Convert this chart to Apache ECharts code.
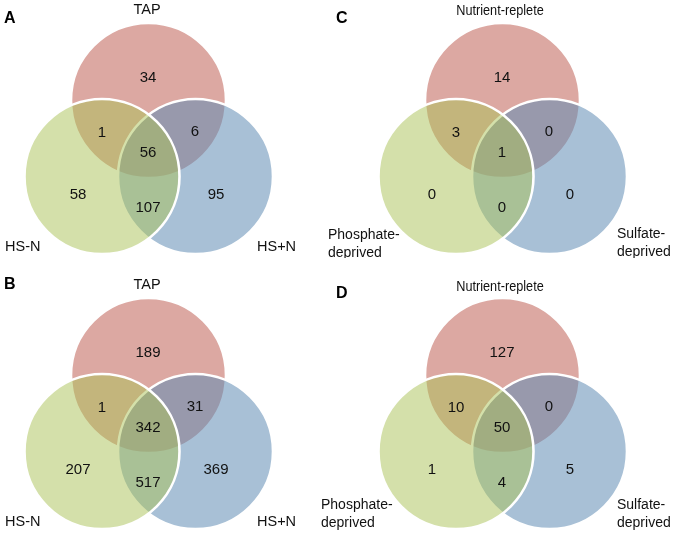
<!DOCTYPE html>
<html>
<head>
<meta charset="utf-8">
<script src="https://cdn.jsdelivr.net/npm/echarts@6/dist/echarts.min.js"></script>
<style>
html,body{margin:0;padding:0;background:#fff;}
#chart{width:675px;height:534px;}
</style>
</head>
<body>
<div id="chart"></div>
<script>
// ---------- DATA ----------
const panelLetters = ['A', 'B', 'C', 'D'];
const setNamesAB = ['TAP', 'HS-N', 'HS+N'];
const setNamesCD = ['Nutrient-replete', 'Phosphate-\ndeprived', 'Sulfate-\ndeprived'];
// region order: top only, top∩left, top∩right, all three, left only, left∩right, right only
const regionNames = ['top only', 'top & left', 'top & right', 'all three', 'left only', 'left & right', 'right only'];
const countsA = [34, 1, 6, 56, 58, 107, 95];
const countsB = [189, 1, 31, 342, 207, 517, 369];
const countsC = [14, 3, 0, 1, 0, 0, 0];
const countsD = [127, 10, 0, 50, 1, 4, 5];

// ---------- LAYOUT (panel-local units = px) ----------
const FONT = '"Liberation Sans", Arial, Helvetica, sans-serif';
const R = 77.5;
const circleCenters = [[148.5, 100.5], [102, 176.5], [195.5, 176.5]]; // top, left, right
const circleFills = ['rgb(220,168,162)', 'rgba(169,193,85,0.5)', 'rgba(97,140,180,0.55)'];
const drawOrder = [0, 2, 1]; // top, right, left (left drawn last)
const regionAnchors = [[148, 78], [102, 133], [195, 132], [148, 153], [78, 195], [148, 208], [216, 195]];

const panels = [
  { counts: countsA, names: setNamesAB, ox: 0, oy: 0, grid: [0, 0, 337, 270],
    nameLab: [[147, 10, 'center'], [5, 247, 'left'], [257, 247, 'left']], narrowTop: false, letter: [4, 11] },
  { counts: countsB, names: setNamesAB, ox: 0, oy: 275, grid: [0, 272, 337, 262],
    nameLab: [[147, 10, 'center'], [5, 247, 'left'], [257, 247, 'left']], narrowTop: false, letter: [4, 277] },
  { counts: countsC, names: setNamesCD, ox: 354, oy: 0, grid: [320, 0, 355, 258],
    nameLab: [[146, 11, 'center'], [-26, 244, 'left'], [263, 243, 'left']], narrowTop: true, letter: [336, 11] },
  { counts: countsD, names: setNamesCD, ox: 354, oy: 275, grid: [320, 272, 355, 262],
    nameLab: [[146, 12, 'center'], [-33, 239, 'left'], [263, 239, 'left']], narrowTop: true, letter: [336, 286] }
];

const grids = [], xAxes = [], yAxes = [], series = [], titles = [];
panels.forEach((p, i) => {
  const [gl, gt, gw, gh] = p.grid;
  grids.push({ left: gl, top: gt, width: gw, height: gh, containLabel: false });
  xAxes.push({ type: 'value', gridIndex: i, min: gl - p.ox, max: gl - p.ox + gw, show: false });
  yAxes.push({ type: 'value', gridIndex: i, inverse: true, min: gt - p.oy, max: gt - p.oy + gh, show: false });

  // circles
  series.push({
    type: 'custom', xAxisIndex: i, yAxisIndex: i, clip: true, silent: true,
    data: drawOrder.map(k => [circleCenters[k][0], circleCenters[k][1], R, k]),
    renderItem: (params, api) => {
      const c = api.coord([api.value(0), api.value(1)]);
      const r = api.size([api.value(2), 0])[0];
      return { type: 'circle', shape: { cx: c[0], cy: c[1], r: r },
        style: { fill: circleFills[api.value(3)], stroke: '#ffffff', lineWidth: 2.6 } };
    }
  });
  // region counts
  series.push({
    type: 'custom', xAxisIndex: i, yAxisIndex: i, clip: true, silent: true, z: 5,
    data: p.counts.map((v, k) => [regionAnchors[k][0], regionAnchors[k][1], v, regionNames[k]]),
    renderItem: (params, api) => {
      const c = api.coord([api.value(0), api.value(1)]);
      return { type: 'text', x: c[0], y: c[1],
        style: { text: String(api.value(2)), fill: '#111', fontSize: 15, fontFamily: FONT,
                 align: 'center', verticalAlign: 'middle' } };
    }
  });
  // set names
  series.push({
    type: 'custom', xAxisIndex: i, yAxisIndex: i, clip: true, silent: true, z: 5,
    data: p.names.map((n, k) => [p.nameLab[k][0], p.nameLab[k][1], k]),
    renderItem: (params, api) => {
      const k = api.value(2);
      const c = api.coord([api.value(0), api.value(1)]);
      const narrow = p.narrowTop && k === 0;
      return { type: 'text', x: c[0], y: c[1], scaleX: narrow ? 0.875 : 1,
        style: { text: p.names[k], fill: '#111', fontSize: narrow ? 14.5 : (p.narrowTop ? 14 : 14.5),
                 fontFamily: FONT, lineHeight: 18.5,
                 align: p.nameLab[k][2], verticalAlign: 'middle' } };
    }
  });
  titles.push({ text: panelLetters[i], left: p.letter[0], top: p.letter[1], padding: 0,
    textStyle: { fontSize: 16, fontWeight: 'bold', fontFamily: FONT, color: '#000' } });
});

const chart = echarts.init(document.getElementById('chart'), null, { renderer: 'canvas' });
chart.setOption({
  animation: false,
  backgroundColor: '#fff',
  title: titles,
  grid: grids,
  xAxis: xAxes,
  yAxis: yAxes,
  series: series
});
</script>
</body>
</html>
